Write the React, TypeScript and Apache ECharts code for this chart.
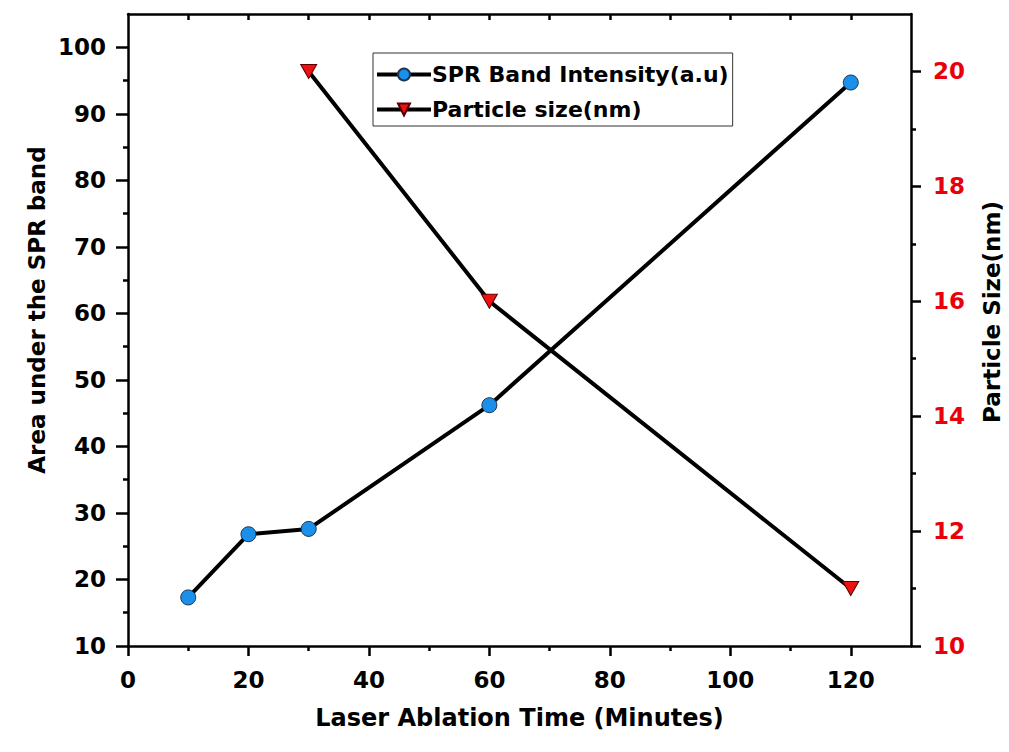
import React, { useEffect, useRef } from "react";
import * as echarts from "echarts";

const timeSPR = [10, 20, 30, 60, 120];
const sprValues = [17.3, 26.8, 27.6, 46.2, 94.7];
const timeSize = [30, 60, 120];
const sizeValues = [20, 16, 11];

const xMajorTicks = [0, 20, 40, 60, 80, 100, 120];
const xMinorTicks = [10, 30, 50, 70, 90, 110];
const xTopTicks = [10, 20, 30, 40, 50, 60, 70, 80, 90, 100, 110, 120];
const leftMajorTicks = [10, 20, 30, 40, 50, 60, 70, 80, 90, 100];
const leftMinorTicks = [15, 25, 35, 45, 55, 65, 75, 85, 95];
const rightMajorTicks = [10, 12, 14, 16, 18, 20];
const rightMinorTicks = [11, 13, 15, 17, 19];

const FONT = "DejaVu Sans";
const AXIS_W = 2.5;

export default function App() {
  const ref = useRef<HTMLDivElement>(null);
  useEffect(() => {
    if (!ref.current) return;
    const chart = echarts.init(ref.current, undefined, { renderer: "svg" });
    const lineStyle = { color: "#000", width: AXIS_W };
    const hiddenLabel = { show: false };
    const off = { show: false };
    const mkX = (pos: string, ticks: number[], len: number, inside: boolean, showLine: boolean, labels: any, extra: any = {}) => ({
      type: "value",
      position: pos,
      min: 0,
      max: 130,
      axisLine: { show: showLine, onZero: false, lineStyle },
      axisTick: { show: true, customValues: ticks, length: len, inside, lineStyle },
      axisLabel: labels,
      splitLine: off,
      ...extra,
    });
    const mkY = (pos: string, min: number, max: number, ticks: number[], len: number, showLine: boolean, labels: any) => ({
      type: "value",
      position: pos,
      min,
      max,
      axisLine: { show: showLine, onZero: false, lineStyle },
      axisTick: { show: true, customValues: ticks, length: len, inside: false, lineStyle },
      axisLabel: labels,
      splitLine: off,
    });
    chart.setOption({
      animation: false,
      grid: { left: 128, right: 98, top: 14, bottom: 106, containLabel: false },
      legend: {
        orient: "vertical",
        left: 373,
        top: 53,
        padding: [9, 4, 4, 2],
        itemGap: 10,
        itemWidth: 54,
        itemHeight: 15,
        borderColor: "#333",
        borderWidth: 1,
        lineStyle: { width: 4, color: "#000" },
        textStyle: { fontFamily: FONT, fontWeight: "bold", fontSize: 22, color: "#000", lineHeight: 25, padding: [0, 0, 0, -4] },
        data: ["SPR Band Intensity(a.u)", "Particle size(nm)"],
      },
      xAxis: [
        mkX("bottom", xMajorTicks, 10, false, true, {
          customValues: xMajorTicks,
          margin: 22,
          color: "#000",
          fontFamily: FONT,
          fontWeight: "bold",
          fontSize: 23,
        }, {
          name: "Laser Ablation Time (Minutes)",
          nameLocation: "middle",
          nameGap: 60,
          nameTextStyle: { fontFamily: FONT, fontWeight: "bold", fontSize: 24, color: "#000" },
        }),
        mkX("bottom", xMinorTicks, 5, false, false, hiddenLabel),
        mkX("top", xTopTicks, 6, true, true, hiddenLabel),
      ],
      yAxis: [
        mkY("left", 10, 105, leftMajorTicks, 12, true, {
          customValues: leftMajorTicks,
          margin: 22,
          color: "#000",
          fontFamily: FONT,
          fontWeight: "bold",
          fontSize: 23,
        }),
        mkY("left", 10, 105, leftMinorTicks, 5, false, hiddenLabel),
        mkY("right", 10, 21, rightMajorTicks, 10, true, {
          customValues: rightMajorTicks,
          margin: 22,
          color: "#e8000b",
          fontFamily: FONT,
          fontWeight: "bold",
          fontSize: 23,
        }),
        mkY("right", 10, 21, rightMinorTicks, 5, false, hiddenLabel),
      ],
      graphic: [
        {
          type: "text",
          x: 37,
          y: 310,
          rotation: Math.PI / 2,
          style: {
            text: "Area under the SPR band",
            fontFamily: FONT,
            fontWeight: "bold",
            fontSize: 23,
            fill: "#000",
            textAlign: "center",
            textVerticalAlign: "middle",
          },
        },
        {
          type: "text",
          x: 992,
          y: 312,
          rotation: Math.PI / 2,
          style: {
            text: "Particle Size(nm)",
            fontFamily: FONT,
            fontWeight: "bold",
            fontSize: 23,
            fill: "#000",
            textAlign: "center",
            textVerticalAlign: "middle",
          },
        },
      ],
      series: [
        {
          name: "SPR Band Intensity(a.u)",
          type: "line",
          xAxisIndex: 0,
          yAxisIndex: 0,
          data: timeSPR.map((t, i) => [t, sprValues[i]]),
          symbol: "circle",
          symbolSize: 15,
          showAllSymbol: true,
          lineStyle: { color: "#000", width: 4 },
          itemStyle: { color: "#1a90ea", borderColor: "#1d3550", borderWidth: 1 },
          z: 3,
        },
        {
          name: "Particle size(nm)",
          type: "line",
          xAxisIndex: 0,
          yAxisIndex: 2,
          data: timeSize.map((t, i) => [t, sizeValues[i]]),
          symbol: "triangle",
          symbolRotate: 180,
          symbolSize: [16, 14],
          showAllSymbol: true,
          lineStyle: { color: "#000", width: 4 },
          itemStyle: { color: "#ee1111", borderColor: "#5a0000", borderWidth: 1 },
          z: 3,
        },
      ],
    });
    return () => chart.dispose();
  }, []);
  return <div ref={ref} style={{ position: "absolute", left: 0, top: 0, width: 1009, height: 752 }} />;
}
